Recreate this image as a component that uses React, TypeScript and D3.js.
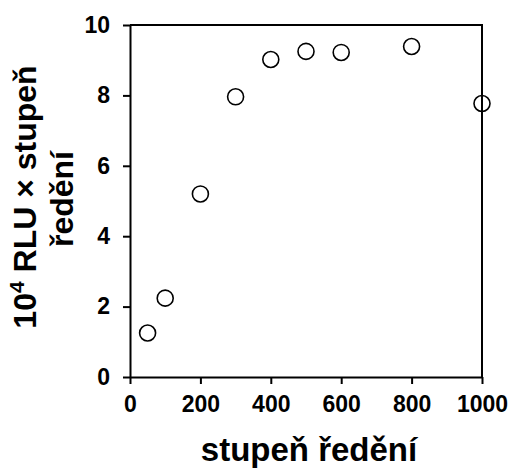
import React, { useEffect, useRef } from 'react';
import * as d3 from 'd3';

// dilution steps and measured values (10^4 RLU x dilution)
const dilution = [50, 100, 200, 300, 400, 500, 600, 800, 1000];
const rluValues = [1.25, 2.24, 5.2, 7.96, 9.02, 9.25, 9.22, 9.39, 7.77];
const xTicks = [0, 200, 400, 600, 800, 1000];
const yTicks = [0, 2, 4, 6, 8, 10];

export default function App() {
  const ref = useRef<SVGSVGElement>(null);

  useEffect(() => {
    const svg = d3.select(ref.current);
    svg.selectAll('*').remove();

    const left = 130, right = 482, top = 25, bottom = 377;
    const font = '"Liberation Sans", Arial, sans-serif';

    const x = d3.scaleLinear().domain([0, 1000]).range([left, right]);
    const y = d3.scaleLinear().domain([0, 10]).range([bottom, top]);

    // frame: top and right lines
    svg.append('path')
      .attr('d', `M${left},${top}H${right}V${bottom}`)
      .attr('fill', 'none')
      .attr('stroke', '#000')
      .attr('stroke-width', 2);

    const xAxis = svg.append('g')
      .attr('transform', `translate(0,${bottom})`)
      .call(d3.axisBottom(x).tickValues(xTicks).tickFormat(d3.format('d')).tickSize(7).tickPadding(12).tickSizeOuter(0));
    const yAxis = svg.append('g')
      .attr('transform', `translate(${left},0)`)
      .call(d3.axisLeft(y).tickValues(yTicks).tickSize(7).tickPadding(13).tickSizeOuter(0));

    [xAxis, yAxis].forEach(g => {
      g.select('.domain').attr('stroke-width', 2);
      g.selectAll('.tick line').attr('stroke-width', 2);
      g.selectAll('.tick text')
        .attr('font-family', font)
        .attr('font-weight', 'bold')
        .attr('font-size', 23)
        .attr('fill', '#000');
    });

    svg.append('g')
      .selectAll('circle')
      .data(dilution)
      .enter().append('circle')
      .attr('cx', d => x(d))
      .attr('cy', (d, i) => y(rluValues[i]))
      .attr('r', 8)
      .attr('fill', 'none')
      .attr('stroke', '#000')
      .attr('stroke-width', 1.6);

    // x title
    svg.append('text')
      .attr('x', (left + right) / 2 + 3)
      .attr('y', 461)
      .attr('text-anchor', 'middle')
      .attr('font-family', font)
      .attr('font-weight', 'bold')
      .attr('font-size', 33)
      .text('stupeň ředění');

    // y title, two lines
    const yt = svg.append('text')
      .attr('transform', `translate(36,197) rotate(-90)`)
      .attr('text-anchor', 'middle')
      .attr('font-family', font)
      .attr('font-weight', 'bold')
      .attr('font-size', 32);
    yt.append('tspan').text('10');
    yt.append('tspan').attr('font-size', 21).attr('dy', -12).text('4');
    yt.append('tspan').attr('dy', 12).text(' RLU × stupeň');
    svg.append('text')
      .attr('transform', `translate(73,199) rotate(-90)`)
      .attr('text-anchor', 'middle')
      .attr('font-family', font)
      .attr('font-weight', 'bold')
      .attr('font-size', 32)
      .text('ředění');
  }, []);

  return (
    <svg
      ref={ref}
      width={510}
      height={470}
      style={{ position: 'absolute', left: 0, top: 0, background: '#fff' }}
    />
  );
}
